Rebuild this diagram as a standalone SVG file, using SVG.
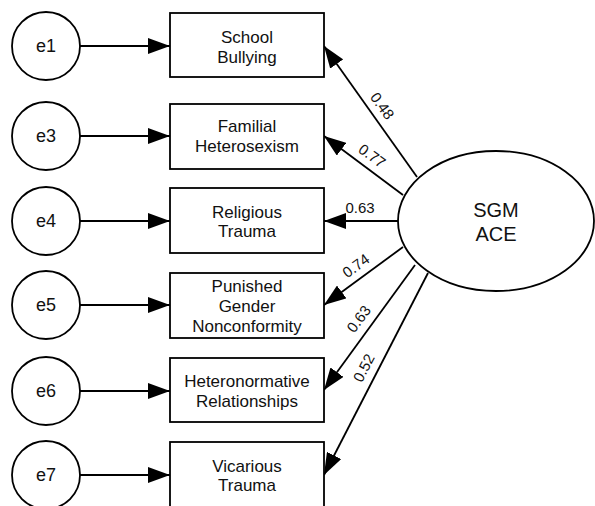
<svg xmlns="http://www.w3.org/2000/svg" width="595" height="506" viewBox="0 0 595 506">
<defs>
<marker id="ah" markerUnits="userSpaceOnUse" markerWidth="22" markerHeight="16" refX="22" refY="8" orient="auto">
<path d="M0,0 L22,8 L0,16 z" fill="#000"/>
</marker>
<style>
.shape{fill:#fff;stroke:#000;stroke-width:1.8}
.t{font-family:"Liberation Sans",Arial,sans-serif;fill:#111;text-anchor:middle}
.box{font-size:17px}
.err{font-size:18px}
.lat{font-size:20px}
.lbl{font-size:15px}
.c{stroke:#000;stroke-width:1.8;fill:none;marker-end:url(#ah)}
</style>
</defs>
<rect width="595" height="506" fill="#fff"/>
<g id="connectors">
<line class="c" x1="80" y1="46" x2="170" y2="46"/>
<line class="c" x1="80" y1="136" x2="170" y2="136"/>
<line class="c" x1="80" y1="221" x2="170" y2="221"/>
<line class="c" x1="80" y1="305" x2="170" y2="305"/>
<line class="c" x1="80" y1="391" x2="170" y2="391"/>
<line class="c" x1="80" y1="475" x2="170" y2="475"/>
<line class="c" x1="417" y1="177" x2="324" y2="46"/>
<line class="c" x1="403" y1="195" x2="324" y2="136"/>
<line class="c" x1="398" y1="221" x2="324" y2="221"/>
<line class="c" x1="403" y1="247" x2="324" y2="305"/>
<line class="c" x1="415" y1="265" x2="324" y2="390"/>
<line class="c" x1="428" y1="273" x2="324" y2="475"/>
<text class="t lbl" transform="translate(382,106) rotate(54)" y="5">0.48</text>
<text class="t lbl" transform="translate(372,156) rotate(36)" y="5">0.77</text>
<text class="t lbl" x="360" y="213">0.63</text>
<text class="t lbl" transform="translate(356,266) rotate(-36)" y="5">0.74</text>
<text class="t lbl" transform="translate(359,319) rotate(-53.6)" y="5">0.63</text>
<text class="t lbl" transform="translate(364,368) rotate(-62.5)" y="5">0.52</text>
</g>
<g id="e1"><circle class="shape" cx="46" cy="46" r="34"/><text class="t err" x="46" y="52">e1</text></g>
<g id="e3"><circle class="shape" cx="46" cy="136" r="34"/><text class="t err" x="46" y="142">e3</text></g>
<g id="e4"><circle class="shape" cx="46" cy="221" r="34"/><text class="t err" x="46" y="227">e4</text></g>
<g id="e5"><circle class="shape" cx="46" cy="305" r="34"/><text class="t err" x="46" y="311">e5</text></g>
<g id="e6"><circle class="shape" cx="46" cy="391" r="34"/><text class="t err" x="46" y="397">e6</text></g>
<g id="e7"><circle class="shape" cx="46" cy="475" r="34"/><text class="t err" x="46" y="481">e7</text></g>
<g id="school"><rect class="shape" x="170" y="13" width="154" height="64"/><text class="t box" x="247" y="43">School</text><text class="t box" x="247" y="63">Bullying</text></g>
<g id="familial"><rect class="shape" x="170" y="104" width="154" height="65"/><text class="t box" x="247" y="132">Familial</text><text class="t box" x="247" y="152">Heterosexism</text></g>
<g id="religious"><rect class="shape" x="170" y="188" width="154" height="65"/><text class="t box" x="247" y="217.5">Religious</text><text class="t box" x="247" y="237">Trauma</text></g>
<g id="punished"><rect class="shape" x="170" y="273" width="154" height="65"/><text class="t box" x="247" y="291.5">Punished</text><text class="t box" x="247" y="311.5">Gender</text><text class="t box" x="247" y="331.5">Nonconformity</text></g>
<g id="heteronormative"><rect class="shape" x="170" y="358" width="154" height="64"/><text class="t box" x="247" y="387">Heteronormative</text><text class="t box" x="247" y="407">Relationships</text></g>
<g id="vicarious"><rect class="shape" x="170" y="442" width="154" height="66"/><text class="t box" x="247" y="471.5">Vicarious</text><text class="t box" x="247" y="491">Trauma</text></g>
<g id="sgm"><ellipse class="shape" cx="496" cy="221" rx="98" ry="70"/><text class="t lat" x="496" y="217">SGM</text><text class="t lat" x="496" y="241">ACE</text></g>
</svg>
